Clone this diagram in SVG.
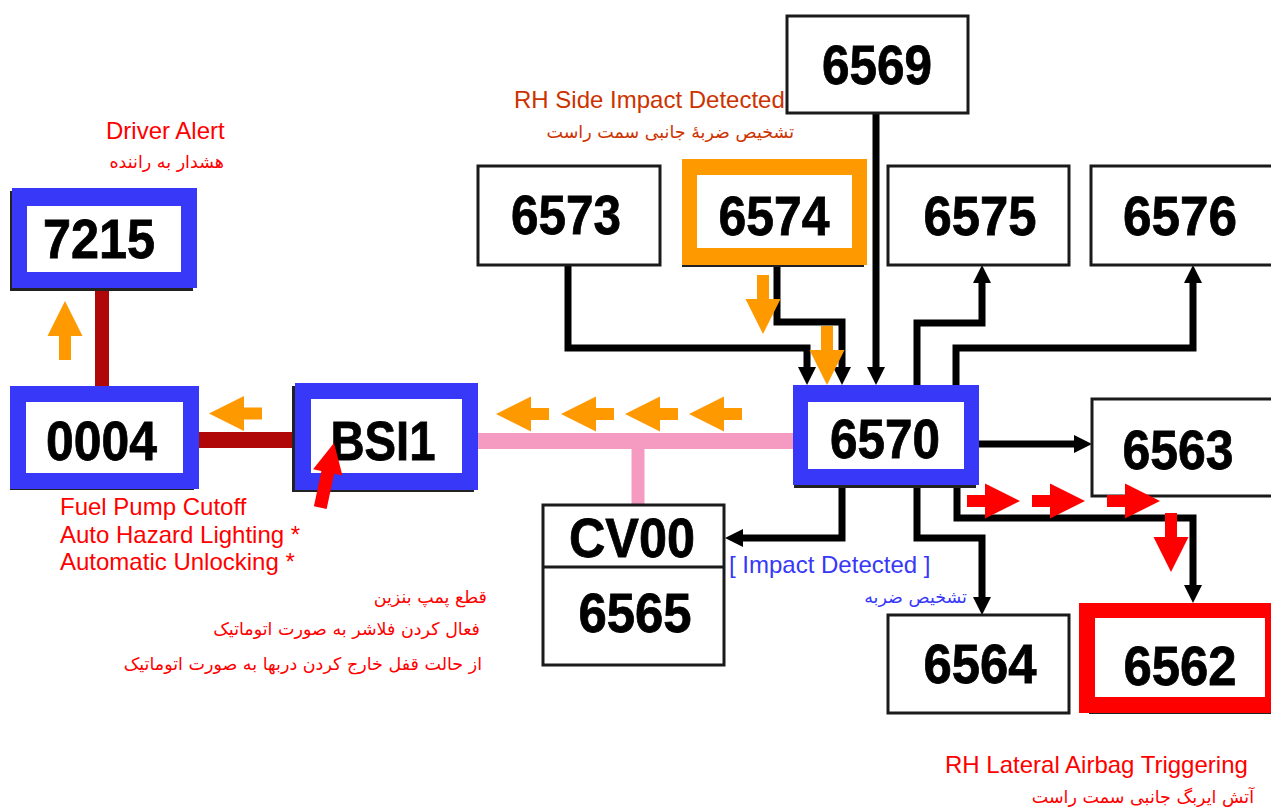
<svg xmlns="http://www.w3.org/2000/svg" xmlns:xlink="http://www.w3.org/1999/xlink" width="1271" height="808" viewBox="0 0 1271 808">
<style>
.num{font-family:"Liberation Sans",Arial,sans-serif;font-weight:bold;font-size:56px;fill:#000;text-anchor:middle;stroke:#000;stroke-width:0.8}
.box{fill:#fff;stroke:#1a1a1a;stroke-width:3}
.shadow{fill:#222}
.inner{fill:#fff}
.blue{fill:#3838F8}
.lbl{font-family:"Liberation Sans",Arial,sans-serif;font-size:24px}
.fa{font-family:"DejaVu Sans","Noto Sans",sans-serif;font-size:17.5px;text-anchor:end}
.conn{fill:none;stroke:#000;stroke-width:7;stroke-linejoin:miter}
.red{fill:#FF0000}
.orange{fill:#FF9900}
</style>
<defs>
<marker id="ah" markerUnits="userSpaceOnUse" viewBox="0 0 18 18" markerWidth="18" markerHeight="18" refX="8" refY="9" orient="auto">
<path d="M0,0 L18,9 L0,18 z" fill="#000"/>
</marker>
<polygon id="A" points="0,0 35,-17.5 35,-6 53,-6 53,6 35,6 35,17.5"/>
<polygon id="B" points="0,0 35,-17.5 35,-6 59,-6 59,6 35,6 35,17.5"/>
</defs>
<rect width="1271" height="808" fill="#fff"/>

<g id="connectors">
<path d="M102,288 V386" stroke="#B00808" stroke-width="14" fill="none"/>
<path d="M199,440 H295" stroke="#B00808" stroke-width="16" fill="none"/>
<path d="M478,441 H793" stroke="#F59BC2" stroke-width="16" fill="none"/>
<path d="M638,441 V505" stroke="#F59BC2" stroke-width="13" fill="none"/>
<path class="conn" d="M568,265 V348 H807 V375" marker-end="url(#ah)"/>
<path class="conn" d="M777,265 V322 H842 V375" marker-end="url(#ah)"/>
<path class="conn" d="M876,113 V375" marker-end="url(#ah)"/>
<path class="conn" d="M917,385 V323 H982 V275" marker-end="url(#ah)"/>
<path class="conn" d="M956,385 V348 H1193 V275" marker-end="url(#ah)"/>
<path class="conn" d="M979,444 H1082" marker-end="url(#ah)"/>
<path class="conn" d="M842,485 V538 H735" marker-end="url(#ah)"/>
<path class="conn" d="M917,485 V538 H982 V605" marker-end="url(#ah)"/>
<path class="conn" d="M957,485 V518 H1193 V593" marker-end="url(#ah)"/>
</g>

<g id="n7215">
<rect class="shadow" x="10" y="191" width="183" height="100"/>
<rect class="blue" x="12" y="188" width="185" height="100"/>
<rect class="inner" x="27" y="206" width="154" height="66"/>
<text class="num" x="99" y="258" textLength="112" lengthAdjust="spacingAndGlyphs">7215</text>
</g>
<g id="n0004">
<rect class="shadow" x="10" y="389" width="184" height="101"/>
<rect class="blue" x="10" y="386" width="189" height="103"/>
<rect class="inner" x="26" y="402" width="157" height="71"/>
<text class="num" x="101.5" y="460" textLength="111" lengthAdjust="spacingAndGlyphs">0004</text>
</g>
<g id="nBSI1">
<rect class="shadow" x="292" y="386" width="182" height="106"/>
<rect class="blue" x="295" y="383" width="183" height="107"/>
<rect class="inner" x="311" y="399" width="151" height="74"/>
<text class="num" x="383" y="460" textLength="105" lengthAdjust="spacingAndGlyphs">BSI1</text>
</g>
<g id="n6569">
<rect class="box" x="787" y="16" width="181" height="97"/>
<text class="num" x="877" y="84" textLength="110" lengthAdjust="spacingAndGlyphs">6569</text>
</g>
<g id="n6573">
<rect class="box" x="478" y="166" width="182" height="99"/>
<text class="num" x="566" y="234" textLength="110" lengthAdjust="spacingAndGlyphs">6573</text>
</g>
<g id="n6574">
<rect class="shadow" x="682" y="162" width="182" height="105"/>
<rect class="orange" x="682" y="159" width="185" height="106"/>
<rect class="inner" x="697" y="175" width="155" height="73"/>
<text class="num" x="774" y="235" textLength="111" lengthAdjust="spacingAndGlyphs">6574</text>
</g>
<g id="n6575">
<rect class="box" x="888" y="166" width="181" height="99"/>
<text class="num" x="980" y="235" textLength="113" lengthAdjust="spacingAndGlyphs">6575</text>
</g>
<g id="n6576">
<rect class="box" x="1091" y="166" width="185" height="99"/>
<text class="num" x="1180" y="235" textLength="114" lengthAdjust="spacingAndGlyphs">6576</text>
</g>
<g id="n6570">
<rect class="shadow" x="794" y="388" width="182" height="100"/>
<rect class="blue" x="793" y="385" width="186" height="100"/>
<rect class="inner" x="808" y="402" width="156" height="67"/>
<text class="num" x="885" y="458" textLength="110" lengthAdjust="spacingAndGlyphs">6570</text>
</g>
<g id="n6563">
<rect class="box" x="1092" y="399" width="181" height="97"/>
<text class="num" x="1178" y="469" textLength="111" lengthAdjust="spacingAndGlyphs">6563</text>
</g>
<g id="nCV00">
<rect class="box" x="543" y="505" width="181" height="160"/>
<line x1="543" y1="567" x2="724" y2="567" stroke="#1a1a1a" stroke-width="3"/>
<text class="num" x="632" y="557" textLength="126" lengthAdjust="spacingAndGlyphs">CV00</text>
<text class="num" x="635" y="632" textLength="113" lengthAdjust="spacingAndGlyphs">6565</text>
</g>
<g id="n6564">
<rect class="box" x="888" y="615" width="181" height="98"/>
<text class="num" x="980" y="683" textLength="113" lengthAdjust="spacingAndGlyphs">6564</text>
</g>
<g id="n6562">
<rect class="shadow" x="1089" y="608" width="190" height="106"/>
<rect class="red" x="1079" y="603" width="200" height="110"/>
<rect class="inner" x="1095" y="618" width="170" height="79"/>
<text class="num" x="1180" y="685" textLength="113" lengthAdjust="spacingAndGlyphs">6562</text>
</g>

<g id="flow-arrows">
<use href="#B" class="orange" transform="translate(65,301) rotate(90)"/>
<use href="#A" class="orange" transform="translate(209,413.5)"/>
<use href="#A" class="orange" transform="translate(496,414)"/>
<use href="#A" class="orange" transform="translate(561,414)"/>
<use href="#A" class="orange" transform="translate(625,414)"/>
<use href="#A" class="orange" transform="translate(689,414)"/>
<use href="#B" class="orange" transform="translate(763,334) rotate(-90)"/>
<use href="#B" class="orange" transform="translate(827,385) rotate(-90)"/>
<use href="#A" class="red" transform="translate(1020,501) rotate(180)"/>
<use href="#A" class="red" transform="translate(1085,501) rotate(180)"/>
<use href="#A" class="red" transform="translate(1160,501) rotate(180)"/>
<use href="#B" class="red" transform="translate(1171,572) rotate(-90)"/>
<polygon class="red" transform="translate(334,443) rotate(102)" points="0,0 30,-15 30,-6.5 66,-6.5 66,6.5 30,6.5 30,15"/>
</g>

<g id="labels">
<text class="lbl" x="106" y="139" fill="#FF0000">Driver Alert</text>
<text class="fa" x="224" y="168" fill="#FF0000">هشدار به راننده</text>
<text class="lbl" x="514" y="108" fill="#CC3300">RH Side Impact Detected</text>
<text class="fa" x="794" y="138" fill="#CC3300">تشخیص ضربهٔ جانبی سمت راست</text>
<text class="lbl" x="60" y="515" fill="#FF0000">Fuel Pump Cutoff</text>
<text class="lbl" x="60" y="543" fill="#FF0000">Auto Hazard Lighting *</text>
<text class="lbl" x="60" y="570" fill="#FF0000">Automatic Unlocking *</text>
<text class="fa" x="487" y="603" fill="#FF0000">قطع پمپ بنزین</text>
<text class="fa" x="480" y="635" fill="#FF0000">فعال کردن فلاشر به صورت اتوماتیک</text>
<text class="fa" x="482" y="670" fill="#FF0000">از حالت قفل خارج کردن دربها به صورت اتوماتیک</text>
<text class="lbl" x="729" y="573" fill="#3838F8">[ Impact Detected ]</text>
<text class="fa" x="967" y="603" fill="#3838F8">تشخیص ضربه</text>
<text class="lbl" x="945" y="773" fill="#FF0000">RH Lateral Airbag Triggering</text>
<text class="fa" x="1254" y="803" fill="#FF0000">آتش ایربگ جانبی سمت راست</text>
</g>
</svg>
